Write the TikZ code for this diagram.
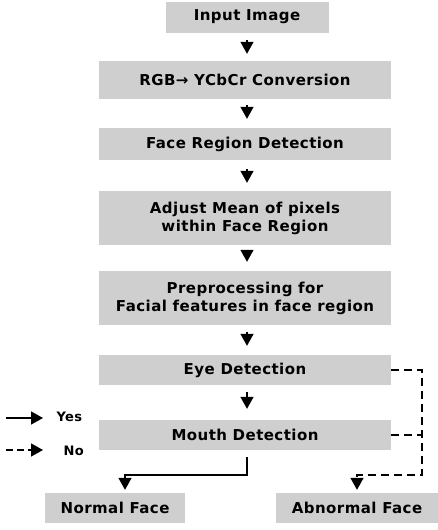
\documentclass[tikz,border=0pt]{standalone}
\usepackage{fontspec}
\setmainfont{DejaVu Sans}
\newfontfamily\boxfont[LetterSpace=3]{DejaVu Sans}
\usetikzlibrary{arrows.meta,calc}
\tikzset{
  stepbox/.style={fill=gray!38, inner sep=0pt, align=center, font=\boxfont\bfseries\fontsize{15}{18}\selectfont},
  yes/.style={line width=1.5pt, -{Triangle[width=13pt,length=12pt]}},
  nodash/.style={line width=1.5pt, dash pattern=on 8pt off 5pt},
  no/.style={nodash, -{Triangle[width=13pt,length=12pt]}},
  legtext/.style={font=\boxfont\bfseries\fontsize{13}{15}\selectfont, anchor=west}
}
\begin{document}
\begin{tikzpicture}[x=1pt,y=-1pt]
\useasboundingbox (0,0) rectangle (437,530);
\node[stepbox, minimum width=163pt, minimum height=31pt] (in) at (247,17) {Input Image};
\node[stepbox, minimum width=292pt, minimum height=38pt] (rgb) at (245,80) {RGB{\bfseries →} YCbCr Conversion};
\node[stepbox, minimum width=292pt, minimum height=32pt] (face) at (245,144) {Face Region Detection};
\node[stepbox, minimum width=292pt, minimum height=54pt] (adj) at (245,218) {Adjust Mean of pixels\\within Face Region};
\node[stepbox, minimum width=292pt, minimum height=54pt] (pre) at (245,298) {Preprocessing for\\Facial features in face region};
\node[stepbox, minimum width=292pt, minimum height=30pt] (eye) at (245,370) {Eye Detection};
\node[stepbox, minimum width=292pt, minimum height=30pt] (mouth) at (245,435) {Mouth Detection};
\node[stepbox, minimum width=140pt, minimum height=30pt] (normal) at (115,508) {Normal Face};
\node[stepbox, minimum width=162pt, minimum height=30pt] (abn) at (357,508) {Abnormal Face};
\coordinate (j1) at (247,475);
\coordinate (j2) at (422,475);
\draw[yes, shorten <=7pt, shorten >=7pt] (in.south -| 247,0) -- (rgb.north -| 247,0);
\draw[yes, shorten <=6pt, shorten >=9pt] (rgb.south -| 247,0) -- (face.north -| 247,0);
\draw[yes, shorten <=9pt, shorten >=8pt] (face.south -| 247,0) -- (adj.north -| 247,0);
\draw[yes, shorten <=8pt, shorten >=9pt] (adj.south -| 247,0) -- (pre.north -| 247,0);
\draw[yes, shorten <=7pt, shorten >=9pt] (pre.south -| 247,0) -- (eye.north -| 247,0);
\draw[yes, shorten <=7pt, shorten >=11pt] (eye.south -| 247,0) -- (mouth.north -| 247,0);
\draw[yes, shorten <=7pt, shorten >=3pt] (mouth.south -| j1) -- (j1) -| (normal.north -| 125,0);
\draw[no, shorten >=3pt] (eye.east) -| (j2) -| (abn.north);
\draw[nodash] (mouth.east) -- (mouth.east -| j2);
\coordinate (ys) at (6,418);
\coordinate (ye) at (43,418);
\coordinate (ns) at (6,450);
\coordinate (ne) at (43,450);
\draw[yes] (ys) -- (ye);
\draw[no, dash pattern=on 7pt off 4pt] (ns) -- (ne);
\node[legtext] (yest) at (53,417) {Yes};
\node[legtext] (not) at (60,451) {No};
\end{tikzpicture}
\end{document}
